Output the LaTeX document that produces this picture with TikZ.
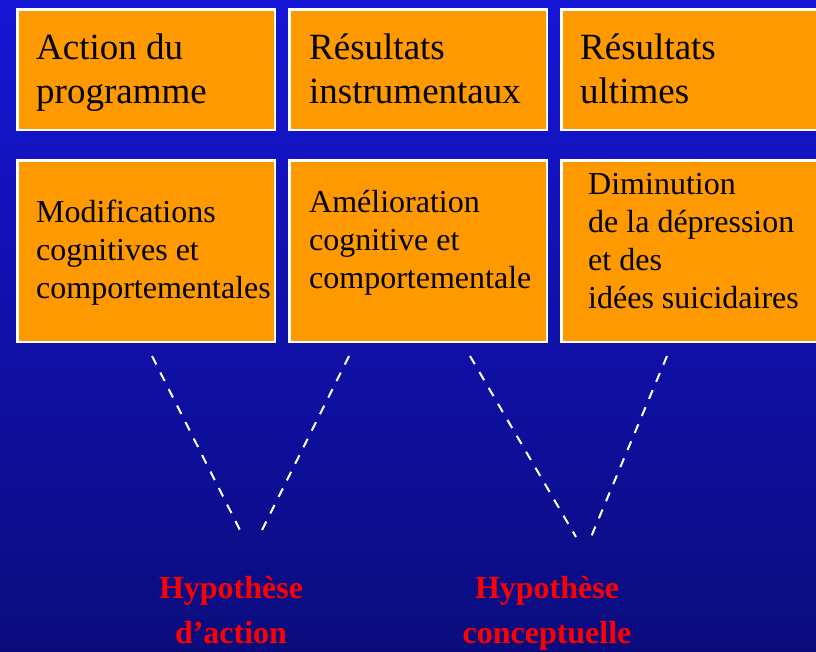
\documentclass[tikz,border=0pt]{standalone}
\usepackage{fontspec}
\setmainfont{Liberation Serif}
\definecolor{bgtop}{RGB}{22,22,214}
\definecolor{bgbot}{RGB}{10,12,125}
\definecolor{boxorange}{RGB}{255,153,0}
\definecolor{hypred}{RGB}{255,0,0}
\tikzset{
  box/.style={draw=white, line width=2.5pt, fill=boxorange, inner sep=0pt, anchor=north west, minimum width=257.5pt},
  toprow/.style={box, minimum height=120.5pt},
  botrow/.style={box, minimum height=181.5pt},
  headtxt/.style={anchor=base west, inner sep=0pt, align=left, font=\fontsize{37}{44}\selectfont},
  bodytxt/.style={anchor=base west, inner sep=0pt, align=left, font=\fontsize{32}{38}\selectfont},
  hyptxt/.style={anchor=base, inner sep=0pt, align=center, text=hypred, font=\bfseries\fontsize{32}{45}\selectfont},
  vline/.style={draw=white, line width=2pt, dash pattern=on 9.5pt off 9pt}
}
\begin{document}
\begin{tikzpicture}[x=1pt,y=-1pt]
\useasboundingbox (0,0) rectangle (816,651);
\clip (0,0) rectangle (816,651);
\shade[top color=bgtop, bottom color=bgbot] (0,0) rectangle (816,651);
% top row
\node[toprow] (t1) at (16.25,8.25) {};
\node[toprow] (t2) at (288.25,8.25) {};
\node[toprow] (t3) at (560.25,8.25) {};
% bottom row
\node[botrow] (m1) at (16.25,159.25) {};
\node[botrow] (m2) at (288.25,159.25) {};
\node[botrow] (m3) at (560.25,159.25) {};
% texts (anchor at baseline of last line)
\node[headtxt] (t1x) at (36,103) {Action du\\programme};
\node[headtxt] (t2x) at (309,103) {Résultats\\instrumentaux};
\node[headtxt] (t3x) at (580,103) {Résultats\\ultimes};
\node[bodytxt] (m1x) at (36,298) {Modifications\\cognitives et\\comportementales};
\node[bodytxt] (m2x) at (309,288) {Amélioration\\cognitive et\\comportementale};
\node[bodytxt] (m3x) at (588,308) {Diminution\\de la dépression\\et des\\idées suicidaires};
% dashed V lines
\coordinate (a1) at (152,356);
\coordinate (a2) at (241,532);
\coordinate (a3) at (261,532);
\coordinate (a4) at (349,356);
\coordinate (c1) at (470,356);
\coordinate (c2) at (576,537);
\coordinate (c3) at (591,537);
\coordinate (c4) at (667,356);
\draw[vline] (a1) -- (a2);
\draw[vline] (a4) -- (a3);
\draw[vline] (c1) -- (c2);
\draw[vline] (c4) -- (c3);
% labels
\node[hyptxt] (h1) at (231,643) {Hypothèse\\d’action};
\node[hyptxt] (h2) at (547,643) {Hypothèse\\conceptuelle};
\end{tikzpicture}
\end{document}
